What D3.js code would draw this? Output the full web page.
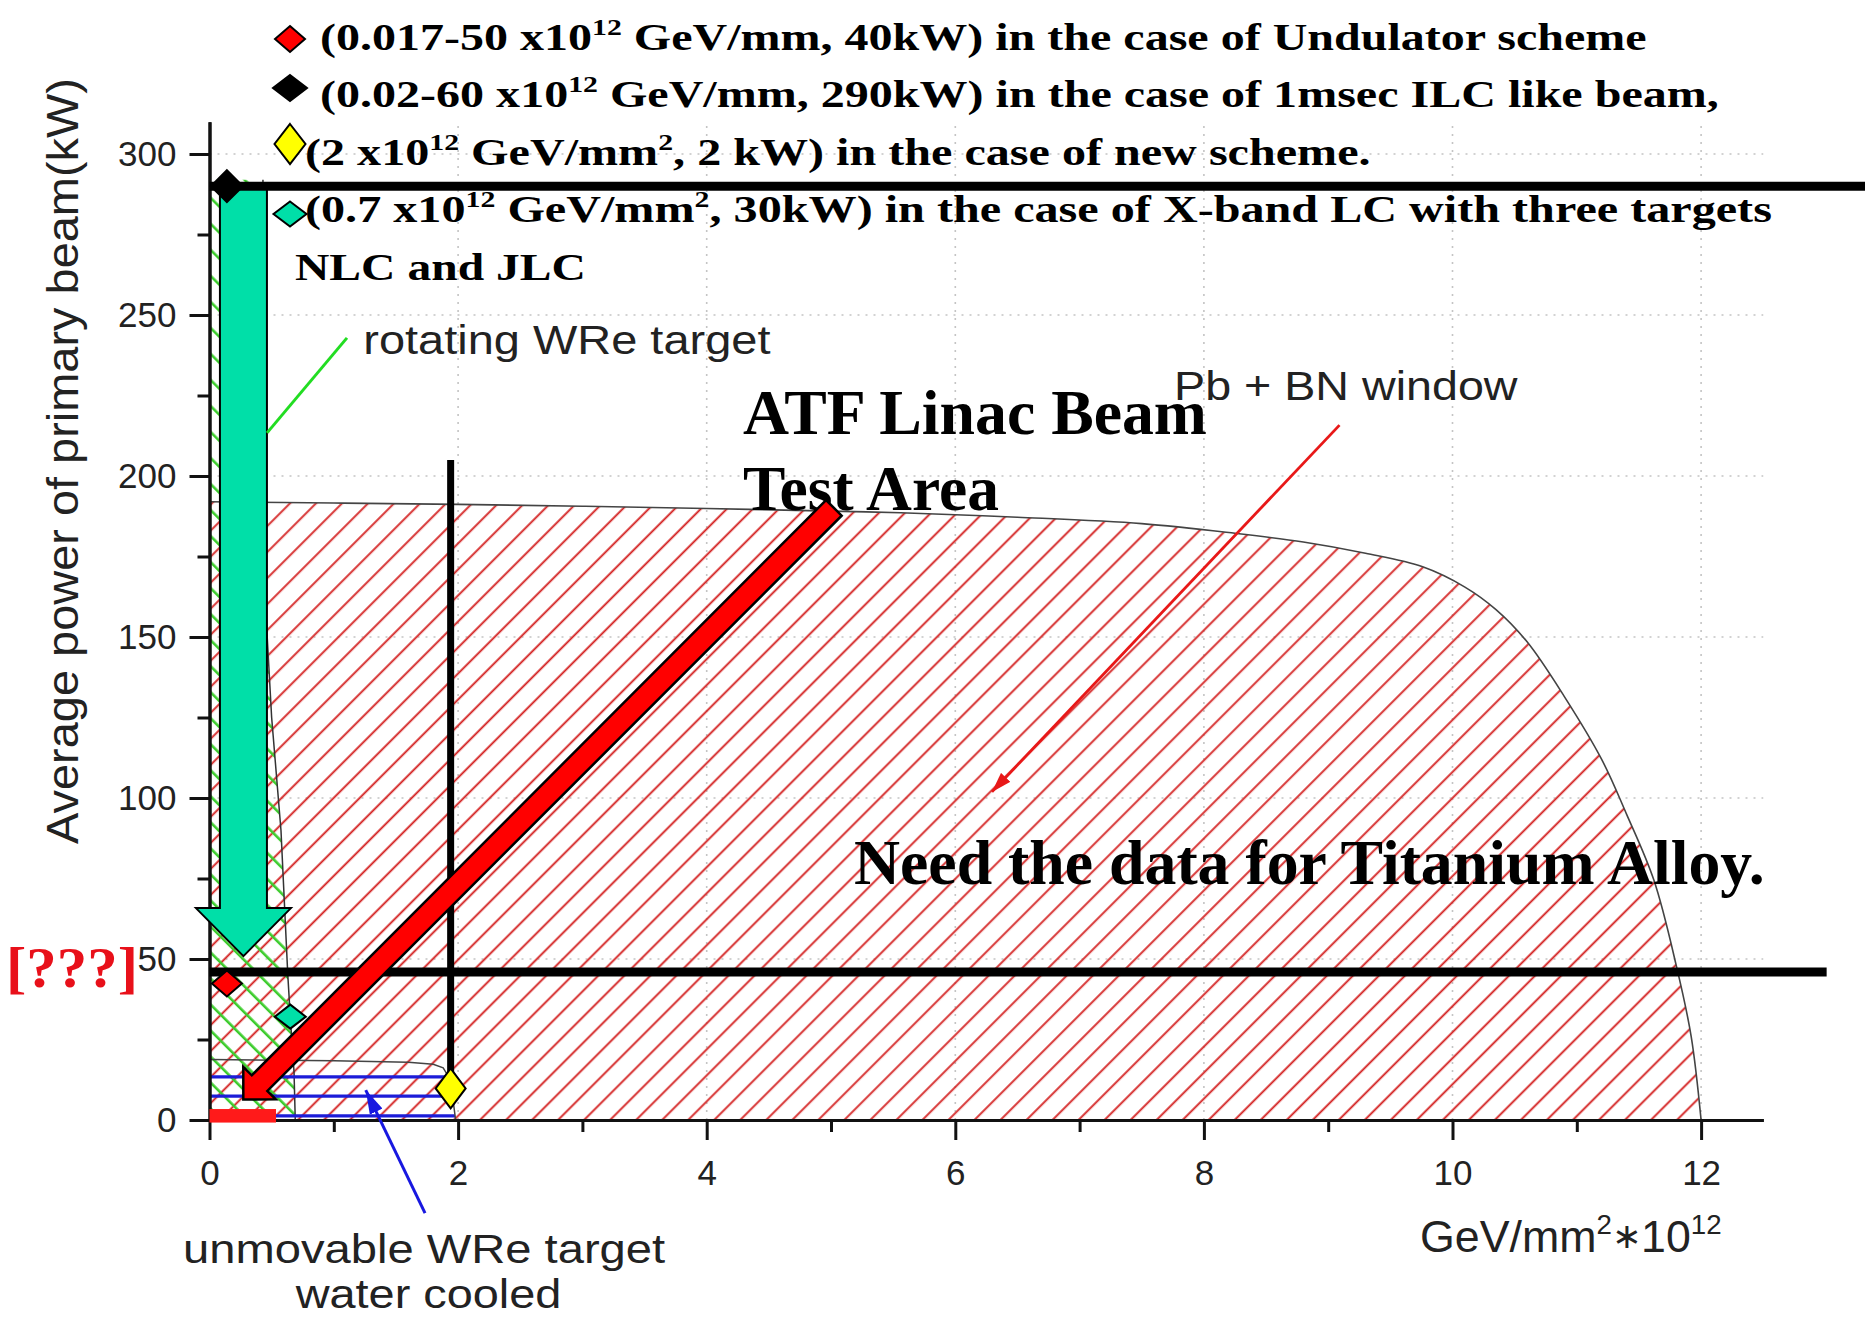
<!DOCTYPE html>
<html>
<head>
<meta charset="utf-8">
<script src="https://cdn.jsdelivr.net/npm/d3@7"></script>
<style>
body { margin: 0; background: #fff; }
</style>
</head>
<body>
<script>
//Width and height
var w = 1865;
var h = 1319;

//Axis ticks
var xTicks = [0, 2, 4, 6, 8, 10, 12];
var xMinor = [1, 3, 5, 7, 9, 11];
var yTicks = [0, 50, 100, 150, 200, 250, 300];
var yMinor = [25, 75, 125, 175, 225, 275];

//Pb + BN window limit (GeV/mm2*1e12, kW)
var pbX = [0, 1, 2, 3, 4, 5, 5.56, 6.5, 7.5, 8.25, 8.8, 9.3, 9.76, 10.1, 10.35, 10.6, 10.9, 11.2, 11.4, 11.62, 11.8, 11.92, 12];
var pbY = [192, 191.6, 191.2, 190.6, 189.9, 189.1, 188.6, 187.2, 185.2, 182.2, 179.5, 176, 171.8, 165.5, 158.5, 148.5, 131.5, 112, 95, 74.5, 48, 26, 0];

//rotating WRe target limit
var rotX = [0, 0.43, 0.45, 0.5, 0.575, 0.63, 0.65, 0.68, 0.69];
var rotY = [292, 292, 160, 125, 90, 45, 32, 15, 0];

//unmovable WRe target limit
var fixX = [0, 1, 1.6, 1.8, 1.88, 1.93, 1.96, 1.98];
var fixY = [18.8, 18.4, 17.9, 17.3, 16.2, 13, 6, 0];
var fixLines = [1.3, 7.4, 13.4];

//operating points
var ptX = [0.14, 0.14, 1.94, 0.65];
var ptY = [42.4, 290, 9.8, 32.1];

//reference lines (kW) and their x extent
var refKW = [290, 46];
var refEnd = [13.4, 13.01];
var vLineX = 1.94;
var vLineY = [205, 11];

//annotation arrows [tail, tip]
var atfArrow = [[5.023, 190.1], [0.272, 6.4]];
var tealArrow = [[0.273, 289.3], [0.273, 50.9]];
var redBar = [0, 0.535, -0.8, 3.4];
var greenLeader = [[1.106, 242.9], [0.463, 213.4]];
var pbLeader = [[9.091, 215.8], [6.295, 101.9]];
var blueLeader = [[1.734, -28.9], [1.257, 9.3]];

//legend texts
var legendText = [
    [["(0.017-50 x10"], ["12", 1], [" GeV/mm, 40kW) in the case of Undulator scheme"]],
    [["(0.02-60 x10"], ["12", 1], [" GeV/mm, 290kW) in the case of 1msec ILC like beam,"]],
    [["(2 x10"], ["12", 1], [" GeV/mm"], ["2", 1], [", 2 kW) in the case of new scheme."]],
    [["(0.7 x10"], ["12", 1], [" GeV/mm"], ["2", 1], [", 30kW) in the case of X-band LC with three targets"]],
    [["NLC and JLC"]]
];

var x = d3.scaleLinear().domain([0, 12.5]).range([209.5, 209.5 + 12.5 * 124.3]);
var y = d3.scaleLinear().domain([0, 310]).range([1120, 1120 - 310 * 3.22]);

var svg = d3.select("body")
    .append("svg")
    .attr("width", w)
    .attr("height", h);

var defs = svg.append("defs");

defs.append("pattern")
    .attr("id", "redHatch")
    .attr("patternUnits", "userSpaceOnUse")
    .attr("width", 18.4).attr("height", 18.4)
    .attr("patternTransform", "rotate(45)")
    .append("line")
    .attr("x1", 9).attr("y1", -2).attr("x2", 9).attr("y2", 21)
    .attr("stroke", "#d42424").attr("stroke-width", 1.9);

defs.append("pattern")
    .attr("id", "greenHatch")
    .attr("patternUnits", "userSpaceOnUse")
    .attr("width", 18.4).attr("height", 18.4)
    .attr("patternTransform", "rotate(-45)")
    .append("line")
    .attr("x1", 9).attr("y1", -2).attr("x2", 9).attr("y2", 21)
    .attr("stroke", "#3ccc2c").attr("stroke-width", 2.6);

function pts(xs, ys) {
    return xs.map(function(d, i) { return [d, ys[i]]; });
}

var lineXY = d3.line().x(function(d) { return x(d[0]); }).y(function(d) { return y(d[1]); });

var fixPts = [[0, 0]].concat(pts(fixX, fixY));
defs.append("clipPath").attr("id", "fixClip")
    .append("path")
    .attr("d", lineXY(fixPts) + "Z");

function marker(id, color, len, wid) {
    defs.append("marker")
        .attr("id", id)
        .attr("markerUnits", "userSpaceOnUse")
        .attr("viewBox", "0 0 " + len + " " + wid)
        .attr("refX", len).attr("refY", wid / 2)
        .attr("markerWidth", len).attr("markerHeight", wid)
        .attr("orient", "auto")
        .append("path")
        .attr("d", "M0,0L" + len + "," + (wid / 2) + "L0," + wid + "Z")
        .attr("fill", color);
}
marker("redHead", "#e81818", 20, 13);
marker("blueHead", "#1818e0", 24, 14);

//Grid
svg.append("g").selectAll("line")
    .data(xTicks.slice(1))
    .enter().append("line")
    .attr("x1", function(d) { return x(d); })
    .attr("x2", function(d) { return x(d); })
    .attr("y1", y(0)).attr("y2", y(310))
    .attr("stroke", "#c4c4c4").attr("stroke-width", 1.6)
    .attr("stroke-dasharray", "2,6");

svg.append("g").selectAll("line")
    .data(yTicks.slice(1))
    .enter().append("line")
    .attr("y1", function(d) { return y(d); })
    .attr("y2", function(d) { return y(d); })
    .attr("x1", x(0)).attr("x2", x(12.5))
    .attr("stroke", "#c4c4c4").attr("stroke-width", 1.6)
    .attr("stroke-dasharray", "2,6");

//Pb + BN window region
var pbPts = pts(pbX, pbY);
svg.append("path")
    .datum(pbPts)
    .attr("d", d3.area()
        .x(function(d) { return x(d[0]); })
        .y0(y(0))
        .y1(function(d) { return y(d[1]); })
        .curve(d3.curveCatmullRom.alpha(0.5)))
    .attr("fill", "url(#redHatch)");
svg.append("path")
    .datum(pbPts)
    .attr("d", d3.line()
        .x(function(d) { return x(d[0]); })
        .y(function(d) { return y(d[1]); })
        .curve(d3.curveCatmullRom.alpha(0.5)))
    .attr("fill", "none").attr("stroke", "#444").attr("stroke-width", 1.6);

//rotating target region
var rotPts = [[0, 0]].concat(pts(rotX, rotY));
svg.append("path")
    .attr("d", lineXY(rotPts) + "Z")
    .attr("fill", "url(#greenHatch)");
svg.append("path")
    .attr("d", lineXY(pts(rotX, rotY).slice(1)))
    .attr("fill", "none").attr("stroke", "#333").attr("stroke-width", 1.5);

//unmovable target region
svg.append("g").attr("clip-path", "url(#fixClip)")
    .selectAll("line")
    .data(fixLines)
    .enter().append("line")
    .attr("x1", x(0)).attr("x2", x(2))
    .attr("y1", function(d) { return y(d); })
    .attr("y2", function(d) { return y(d); })
    .attr("stroke", "#1c1cd8").attr("stroke-width", 3.2);
svg.append("path")
    .attr("d", lineXY(pts(fixX, fixY)))
    .attr("fill", "none").attr("stroke", "#444").attr("stroke-width", 1.5);

//Axes
svg.append("g")
    .attr("transform", "translate(0," + y(0) + ")")
    .call(d3.axisBottom(x).tickValues(xTicks).tickSize(20).tickSizeOuter(0).tickPadding(20));
svg.append("g")
    .attr("transform", "translate(0," + y(0) + ")")
    .call(d3.axisBottom(x).tickValues(xMinor).tickSize(12).tickSizeOuter(0).tickFormat(""));
svg.append("g")
    .attr("transform", "translate(" + x(0) + ",0)")
    .call(d3.axisLeft(y).tickValues(yTicks).tickSize(20).tickSizeOuter(0).tickPadding(13));
svg.append("g")
    .attr("transform", "translate(" + x(0) + ",0)")
    .call(d3.axisLeft(y).tickValues(yMinor).tickSize(12).tickSizeOuter(0).tickFormat(""));

svg.selectAll(".domain").attr("stroke", "#111").attr("stroke-width", 3);
svg.selectAll(".tick line").attr("stroke", "#111").attr("stroke-width", 3);
svg.selectAll(".tick text")
    .attr("font-family", "Liberation Sans, Arial, sans-serif")
    .attr("font-size", "35px")
    .attr("fill", "#222");

function fit(sel, width) {
    sel.each(function() {
        var bw = this.getBBox().width;
        var t = d3.select(this).attr("transform") || "";
        d3.select(this).attr("transform", t + " scale(" + (width / bw) + ",1)");
    });
}

function label(px, py, str, font, size, weight, color, width) {
    var t = svg.append("text")
        .attr("transform", "translate(" + px + "," + py + ")")
        .attr("font-family", font)
        .attr("font-size", size + "px")
        .attr("font-weight", weight)
        .attr("fill", color)
        .text(str);
    fit(t, width);
    return t;
}

var sans = "Liberation Sans, Arial, sans-serif";
var serif = "Liberation Serif, Times New Roman, serif";

//Axis titles
var yTitle = svg.append("text")
    .attr("transform", "translate(78,461) rotate(-90)")
    .attr("text-anchor", "middle")
    .attr("font-family", sans)
    .attr("font-size", "45px")
    .attr("fill", "#222")
    .text("Average power of primary beam(kW)");
fit(yTitle, 766);

function rich(px, py, segs, font, size, weight, color, width) {
    var t = svg.append("text")
        .attr("transform", "translate(" + px + "," + py + ")")
        .attr("font-family", font)
        .attr("font-weight", weight)
        .attr("fill", color);
    var shift = 0;
    segs.forEach(function(s) {
        var up = s[1] === 1 ? -size * 0.4 : (s[1] === 2 ? -size * 0.08 : 0);
        var fs = s[1] === 1 ? size * 0.62 : (s[1] === 2 ? size * 0.8 : size);
        t.append("tspan")
            .attr("dy", up - shift)
            .attr("font-size", fs + "px")
            .text(s[0]);
        shift = up;
    });
    fit(t, width);
    return t;
}

rich(1420, 1252, [["GeV/mm"], ["2", 1], ["\u2217", 2], ["10"], ["12", 1]], sans, 44, "normal", "#222", 302);

//Teal arrow (X-band case)
function arrowPath(p0, p1, sw, hw, hl) {
    var x0 = x(p0[0]), y0 = y(p0[1]), x1 = x(p1[0]), y1 = y(p1[1]);
    var dx = x1 - x0, dy = y1 - y0, L = Math.sqrt(dx * dx + dy * dy);
    var ux = dx / L, uy = dy / L, nx = -uy, ny = ux;
    var bx = x1 - ux * hl, by = y1 - uy * hl;
    var p = [
        [x0 + nx * sw / 2, y0 + ny * sw / 2],
        [bx + nx * sw / 2, by + ny * sw / 2],
        [bx + nx * hw / 2, by + ny * hw / 2],
        [x1, y1],
        [bx - nx * hw / 2, by - ny * hw / 2],
        [bx - nx * sw / 2, by - ny * sw / 2],
        [x0 - nx * sw / 2, y0 - ny * sw / 2]
    ];
    return "M" + p.join("L") + "Z";
}

svg.append("path")
    .attr("d", arrowPath(tealArrow[0], tealArrow[1], 47, 95, 48))
    .attr("fill", "#00dfa8").attr("stroke", "#000").attr("stroke-width", 2);

function diamond(cx, cy, dw, dh) {
    return "M" + cx + "," + (cy - dh / 2) + "L" + (cx + dw / 2) + "," + cy +
        "L" + cx + "," + (cy + dh / 2) + "L" + (cx - dw / 2) + "," + cy + "Z";
}

var ptColor = ["#ff0000", "#000000", "#ffff00", "#00dfa8"];

//Legend
var legendLayout = [
    [290, 39, 30, 26, 320, 50, 1327],
    [290, 88, 34, 26, 320, 107, 1399],
    [290, 144, 31, 40, 305, 165, 1066],
    [290, 214, 33, 25, 305, 222, 1467],
    [0, 0, 0, 0, 295, 280, 291]
];
legendText.forEach(function(segs, i) {
    var L = legendLayout[i];
    if (i < 4) {
        svg.append("path")
            .attr("d", diamond(L[0], L[1], L[2], L[3]))
            .attr("fill", ptColor[i]).attr("stroke", "#000").attr("stroke-width", 2);
    }
    rich(L[4], L[5], segs, serif, 37, "bold", "#000", L[6]);
});

//Reference lines
svg.append("g").selectAll("line")
    .data(refKW)
    .enter().append("line")
    .attr("x1", x(0))
    .attr("x2", function(d, i) { return x(refEnd[i]); })
    .attr("y1", function(d) { return y(d); })
    .attr("y2", function(d) { return y(d); })
    .attr("stroke", "#000").attr("stroke-width", 9);

svg.append("line")
    .attr("x1", x(vLineX)).attr("x2", x(vLineX))
    .attr("y1", y(vLineY[0])).attr("y2", y(vLineY[1]))
    .attr("stroke", "#000").attr("stroke-width", 7);

//In-plot labels
label(x(1.237), y(237.9), "rotating WRe target", sans, 41, "normal", "#222", 408);
label(x(7.76), y(223.6), "Pb + BN window", sans, 41, "normal", "#222", 344);
label(x(-0.213), y(-44.4), "unmovable WRe target", sans, 41, "normal", "#222", 483);
label(x(0.693), y(-58.4), "water cooled", sans, 41, "normal", "#222", 267);
label(x(4.292), y(213), "ATF Linac Beam", serif, 63, "bold", "#000", 464);
label(x(4.292), y(189.4), "Test Area", serif, 63, "bold", "#000", 256);
label(x(5.185), y(73.3), "Need the data for Titanium Alloy.", serif, 64, "bold", "#000", 911);
label(x(-1.637), y(41.3), "[???]", serif, 58, "bold", "#e8101a", 132);

//Leaders
svg.append("line")
    .attr("x1", x(greenLeader[0][0])).attr("y1", y(greenLeader[0][1]))
    .attr("x2", x(greenLeader[1][0])).attr("y2", y(greenLeader[1][1]))
    .attr("stroke", "#22dd22").attr("stroke-width", 3);
svg.append("line")
    .attr("x1", x(pbLeader[0][0])).attr("y1", y(pbLeader[0][1]))
    .attr("x2", x(pbLeader[1][0])).attr("y2", y(pbLeader[1][1]))
    .attr("stroke", "#e81818").attr("stroke-width", 2.8)
    .attr("marker-end", "url(#redHead)");
svg.append("line")
    .attr("x1", x(blueLeader[0][0])).attr("y1", y(blueLeader[0][1]))
    .attr("x2", x(blueLeader[1][0])).attr("y2", y(blueLeader[1][1]))
    .attr("stroke", "#1818e0").attr("stroke-width", 3)
    .attr("marker-end", "url(#blueHead)");

//ATF arrow
svg.append("path")
    .attr("d", arrowPath(atfArrow[0], atfArrow[1], 22, 46, 23))
    .attr("fill", "#ff0000").attr("stroke", "#000").attr("stroke-width", 2.5)
    .attr("stroke-linejoin", "miter");

//Red bar
svg.append("rect")
    .attr("x", x(redBar[0]))
    .attr("y", y(redBar[3]))
    .attr("width", x(redBar[1]) - x(redBar[0]))
    .attr("height", y(redBar[2]) - y(redBar[3]))
    .attr("fill", "#ff1a1a");

//Operating points
var ptSize = [[30, 26], [32, 32], [30, 40], [31, 24]];
svg.append("g").selectAll("path")
    .data(ptX)
    .enter().append("path")
    .attr("d", function(d, i) { return diamond(x(d), y(ptY[i]), ptSize[i][0], ptSize[i][1]); })
    .attr("fill", function(d, i) { return ptColor[i]; })
    .attr("stroke", "#000").attr("stroke-width", 2);
</script>
</body>
</html>
